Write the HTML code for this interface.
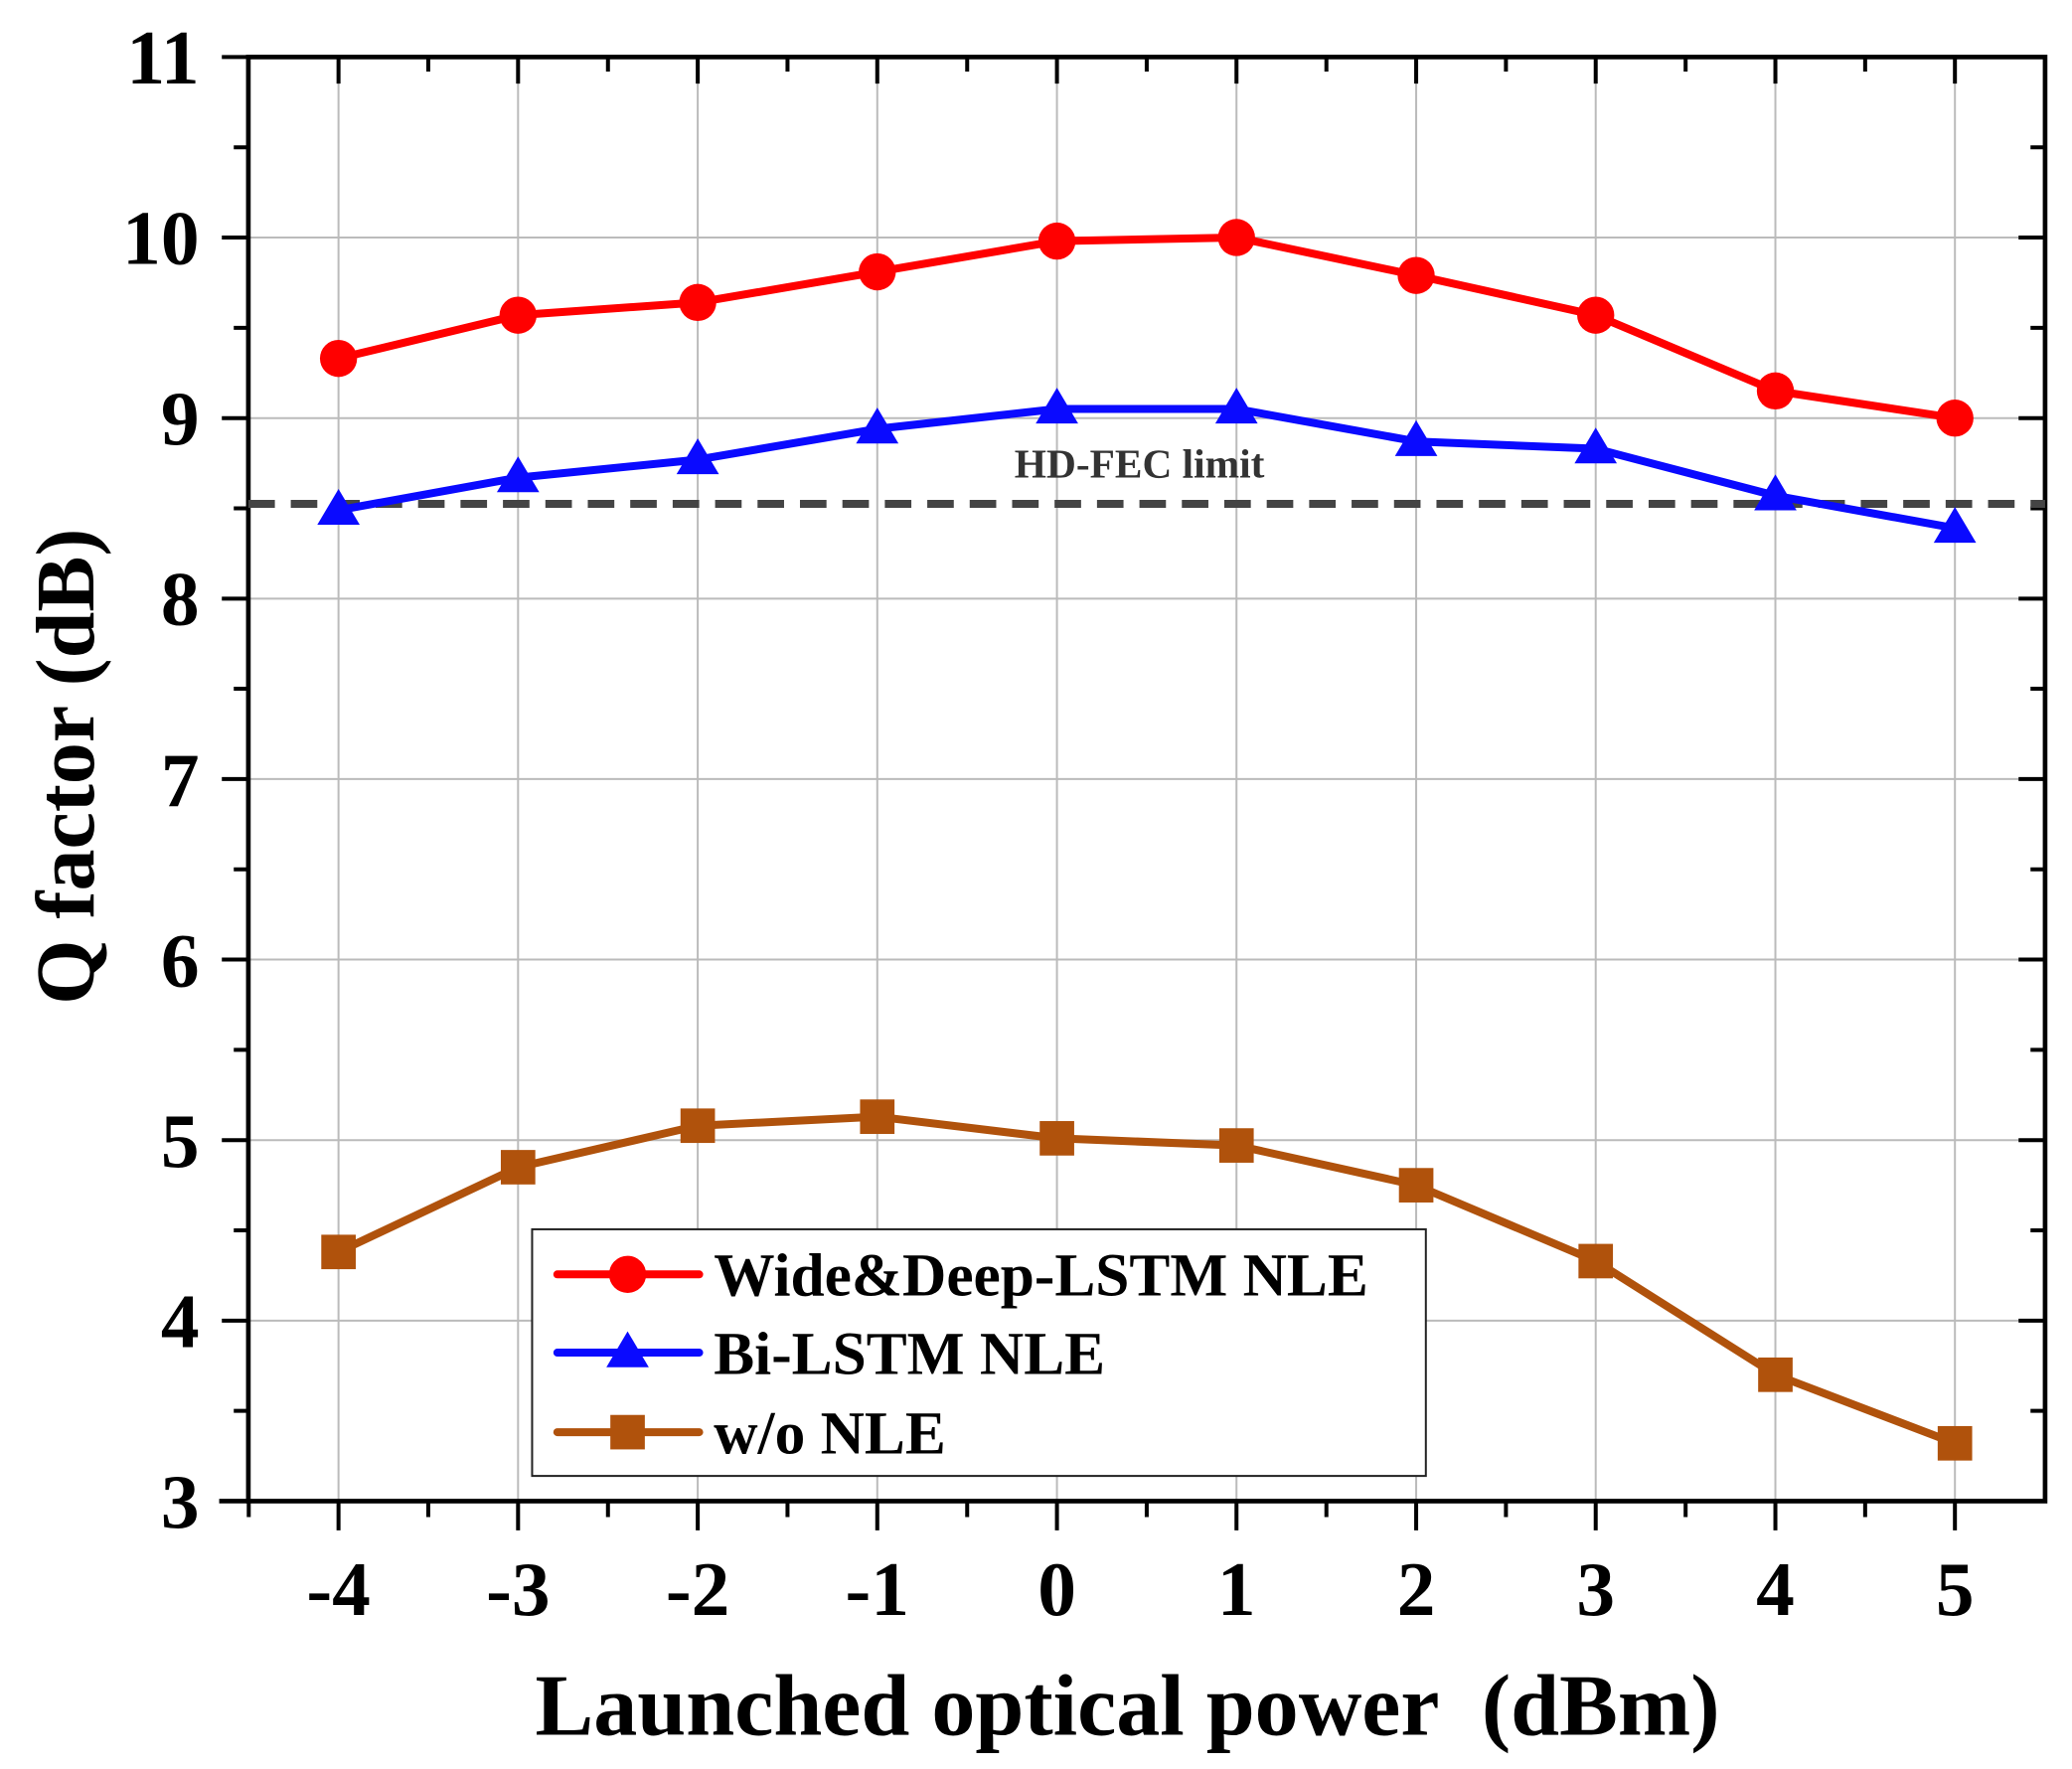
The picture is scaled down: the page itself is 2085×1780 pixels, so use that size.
<!DOCTYPE html>
<html><head><meta charset="utf-8"><style>html,body{margin:0;padding:0;background:#fff}svg{display:block}</style></head>
<body>
<svg width="2085" height="1780" viewBox="0 0 1562 1334" xmlns="http://www.w3.org/2000/svg" font-family="Liberation Serif, serif" font-weight="bold">
<rect width="1562" height="1334" fill="#fff"/>
<!-- grid -->
<path stroke="#bbb" stroke-width="1.5" fill="none" d="M255 43V1132M390.4 43V1132M525.9 43V1132M661.3 43V1132M796.8 43V1132M932.2 43V1132M1067.7 43V1132M1203.1 43V1132M1338.6 43V1132M1474 43V1132
M187 995.9H1542M187 859.8H1542M187 723.6H1542M187 587.5H1542M187 451.4H1542M187 315.3H1542M187 179.1H1542"/>
<!-- ticks -->
<path stroke="#000" stroke-width="3" fill="none" d="
M255 1132v22M390.4 1132v22M525.9 1132v22M661.3 1132v22M796.8 1132v22M932.2 1132v22M1067.7 1132v22M1203.1 1132v22M1338.6 1132v22M1474 1132v22
M322.7 1132v12M458.2 1132v12M593.6 1132v12M729.1 1132v12M864.5 1132v12M1000 1132v12M1135.4 1132v12M1270.9 1132v12M1406.3 1132v12M187.3 1132v12
M255 43v20M390.4 43v20M525.9 43v20M661.3 43v20M796.8 43v20M932.2 43v20M1067.7 43v20M1203.1 43v20M1338.6 43v20M1474 43v20
M322.7 43v11M458.2 43v11M593.6 43v11M729.1 43v11M864.5 43v11M1000 43v11M1135.4 43v11M1270.9 43v11M1406.3 43v11
M187 1132h-20M187 995.9h-20M187 859.8h-20M187 723.6h-20M187 587.5h-20M187 451.4h-20M187 315.3h-20M187 179.1h-20M187 43h-20
M187 1063.9h-11M187 927.8h-11M187 791.7h-11M187 655.6h-11M187 519.4h-11M187 383.3h-11M187 247.2h-11M187 111.1h-11
M1542 995.9h-20M1542 859.8h-20M1542 723.6h-20M1542 587.5h-20M1542 451.4h-20M1542 315.3h-20M1542 179.1h-20
M1542 1063.9h-11M1542 927.8h-11M1542 791.7h-11M1542 655.6h-11M1542 519.4h-11M1542 383.3h-11M1542 247.2h-11M1542 111.1h-11"/>
<rect x="187" y="43" width="1355" height="1089" fill="none" stroke="#000" stroke-width="3.5"/>
<line x1="165" y1="1132" x2="187" y2="1132" stroke="#000" stroke-width="3.5"/>
<!-- y labels -->
<g font-size="58" text-anchor="end">
<text x="150" y="1152">3</text><text x="150" y="1016">4</text><text x="150" y="880">5</text><text x="150" y="744">6</text><text x="150" y="608">7</text><text x="150" y="471">8</text><text x="150" y="335">9</text><text x="150" y="199">10</text><text x="150" y="63">11</text>
</g>
<g font-size="58" text-anchor="middle">
<text x="255" y="1218">-4</text><text x="390.4" y="1218">-3</text><text x="525.9" y="1218">-2</text><text x="661.3" y="1218">-1</text><text x="796.8" y="1218">0</text><text x="932.2" y="1218">1</text><text x="1067.7" y="1218">2</text><text x="1203.1" y="1218">3</text><text x="1338.6" y="1218">4</text><text x="1474" y="1218">5</text>
</g>
<!-- FEC -->
<line x1="187" y1="380" x2="1542" y2="380" stroke="#444" stroke-width="6" stroke-dasharray="20,12"/>
<text x="859" y="360" font-size="31" fill="#333" text-anchor="middle">HD-FEC limit</text>
<!-- brown -->
<polyline fill="none" stroke="#b0520c" stroke-width="6" stroke-linejoin="round" points="255,944.1 390.4,880.2 525.9,848.9 661.3,842.1 796.8,858.4 932.2,863.8 1067.7,893.8 1203.1,951 1338.6,1036.7 1474,1088.4"/>
<g fill="#b0520c">
<rect x="242" y="931.1" width="26" height="26"/><rect x="377.4" y="867.2" width="26" height="26"/><rect x="512.9" y="835.9" width="26" height="26"/><rect x="648.3" y="829.1" width="26" height="26"/><rect x="783.8" y="845.4" width="26" height="26"/><rect x="919.2" y="850.8" width="26" height="26"/><rect x="1054.7" y="880.8" width="26" height="26"/><rect x="1190.1" y="938" width="26" height="26"/><rect x="1325.6" y="1023.7" width="26" height="26"/><rect x="1461" y="1075.4" width="26" height="26"/>
</g>
<!-- blue -->
<polyline fill="none" stroke="#0a0aff" stroke-width="6" stroke-linejoin="round" points="255,384.7 390.4,360.2 525.9,346.6 661.3,323.4 796.8,308.4 932.2,308.4 1067.7,332.9 1203.1,338.4 1338.6,373.8 1474,398.3"/>
<g fill="#0a0aff">
<path d="M255 368.7l-16 27h32z"/><path d="M390.4 344.2l-16 27h32z"/><path d="M525.9 330.6l-16 27h32z"/><path d="M661.3 307.4l-16 27h32z"/><path d="M796.8 292.4l-16 27h32z"/><path d="M932.2 292.4l-16 27h32z"/><path d="M1067.7 316.9l-16 27h32z"/><path d="M1203.1 322.4l-16 27h32z"/><path d="M1338.6 357.8l-16 27h32z"/><path d="M1474 382.3l-16 27h32z"/>
</g>
<!-- red -->
<polyline fill="none" stroke="#ff0000" stroke-width="6" stroke-linejoin="round" points="255,270.3 390.4,237.7 525.9,228.1 661.3,205 796.8,181.8 932.2,179.1 1067.7,207.7 1203.1,237.7 1338.6,294.8 1474,315.3"/>
<g fill="#ff0000">
<circle cx="255" cy="270.3" r="14"/><circle cx="390.4" cy="237.7" r="14"/><circle cx="525.9" cy="228.1" r="14"/><circle cx="661.3" cy="205" r="14"/><circle cx="796.8" cy="181.8" r="14"/><circle cx="932.2" cy="179.1" r="14"/><circle cx="1067.7" cy="207.7" r="14"/><circle cx="1203.1" cy="237.7" r="14"/><circle cx="1338.6" cy="294.8" r="14"/><circle cx="1474" cy="315.3" r="14"/>
</g>
<!-- legend -->
<rect x="401" y="927" width="674" height="186" fill="#fff" stroke="#222" stroke-width="1.5"/>
<line x1="420" y1="961" x2="527" y2="961" stroke="#ff0000" stroke-width="6" stroke-linecap="round"/><circle cx="473" cy="961" r="14" fill="#ff0000"/>
<text x="538" y="977" font-size="46">Wide&amp;Deep-LSTM NLE</text>
<line x1="420" y1="1020" x2="527" y2="1020" stroke="#0a0aff" stroke-width="6" stroke-linecap="round"/><path d="M473 1004l-16 27h32z" fill="#0a0aff"/>
<text x="538" y="1036" font-size="46">Bi-LSTM NLE</text>
<line x1="420" y1="1080" x2="527" y2="1080" stroke="#b0520c" stroke-width="6" stroke-linecap="round"/><rect x="460" y="1067" width="26" height="26" fill="#b0520c"/>
<text x="538" y="1096" font-size="46">w/o NLE</text>
<text x="850" y="1308" font-size="66" text-anchor="middle" xml:space="preserve">Launched optical power  (dBm)</text>
<text transform="translate(70,578) rotate(-90)" font-size="63" text-anchor="middle">Q factor (dB)</text>
</svg>
</body></html>
